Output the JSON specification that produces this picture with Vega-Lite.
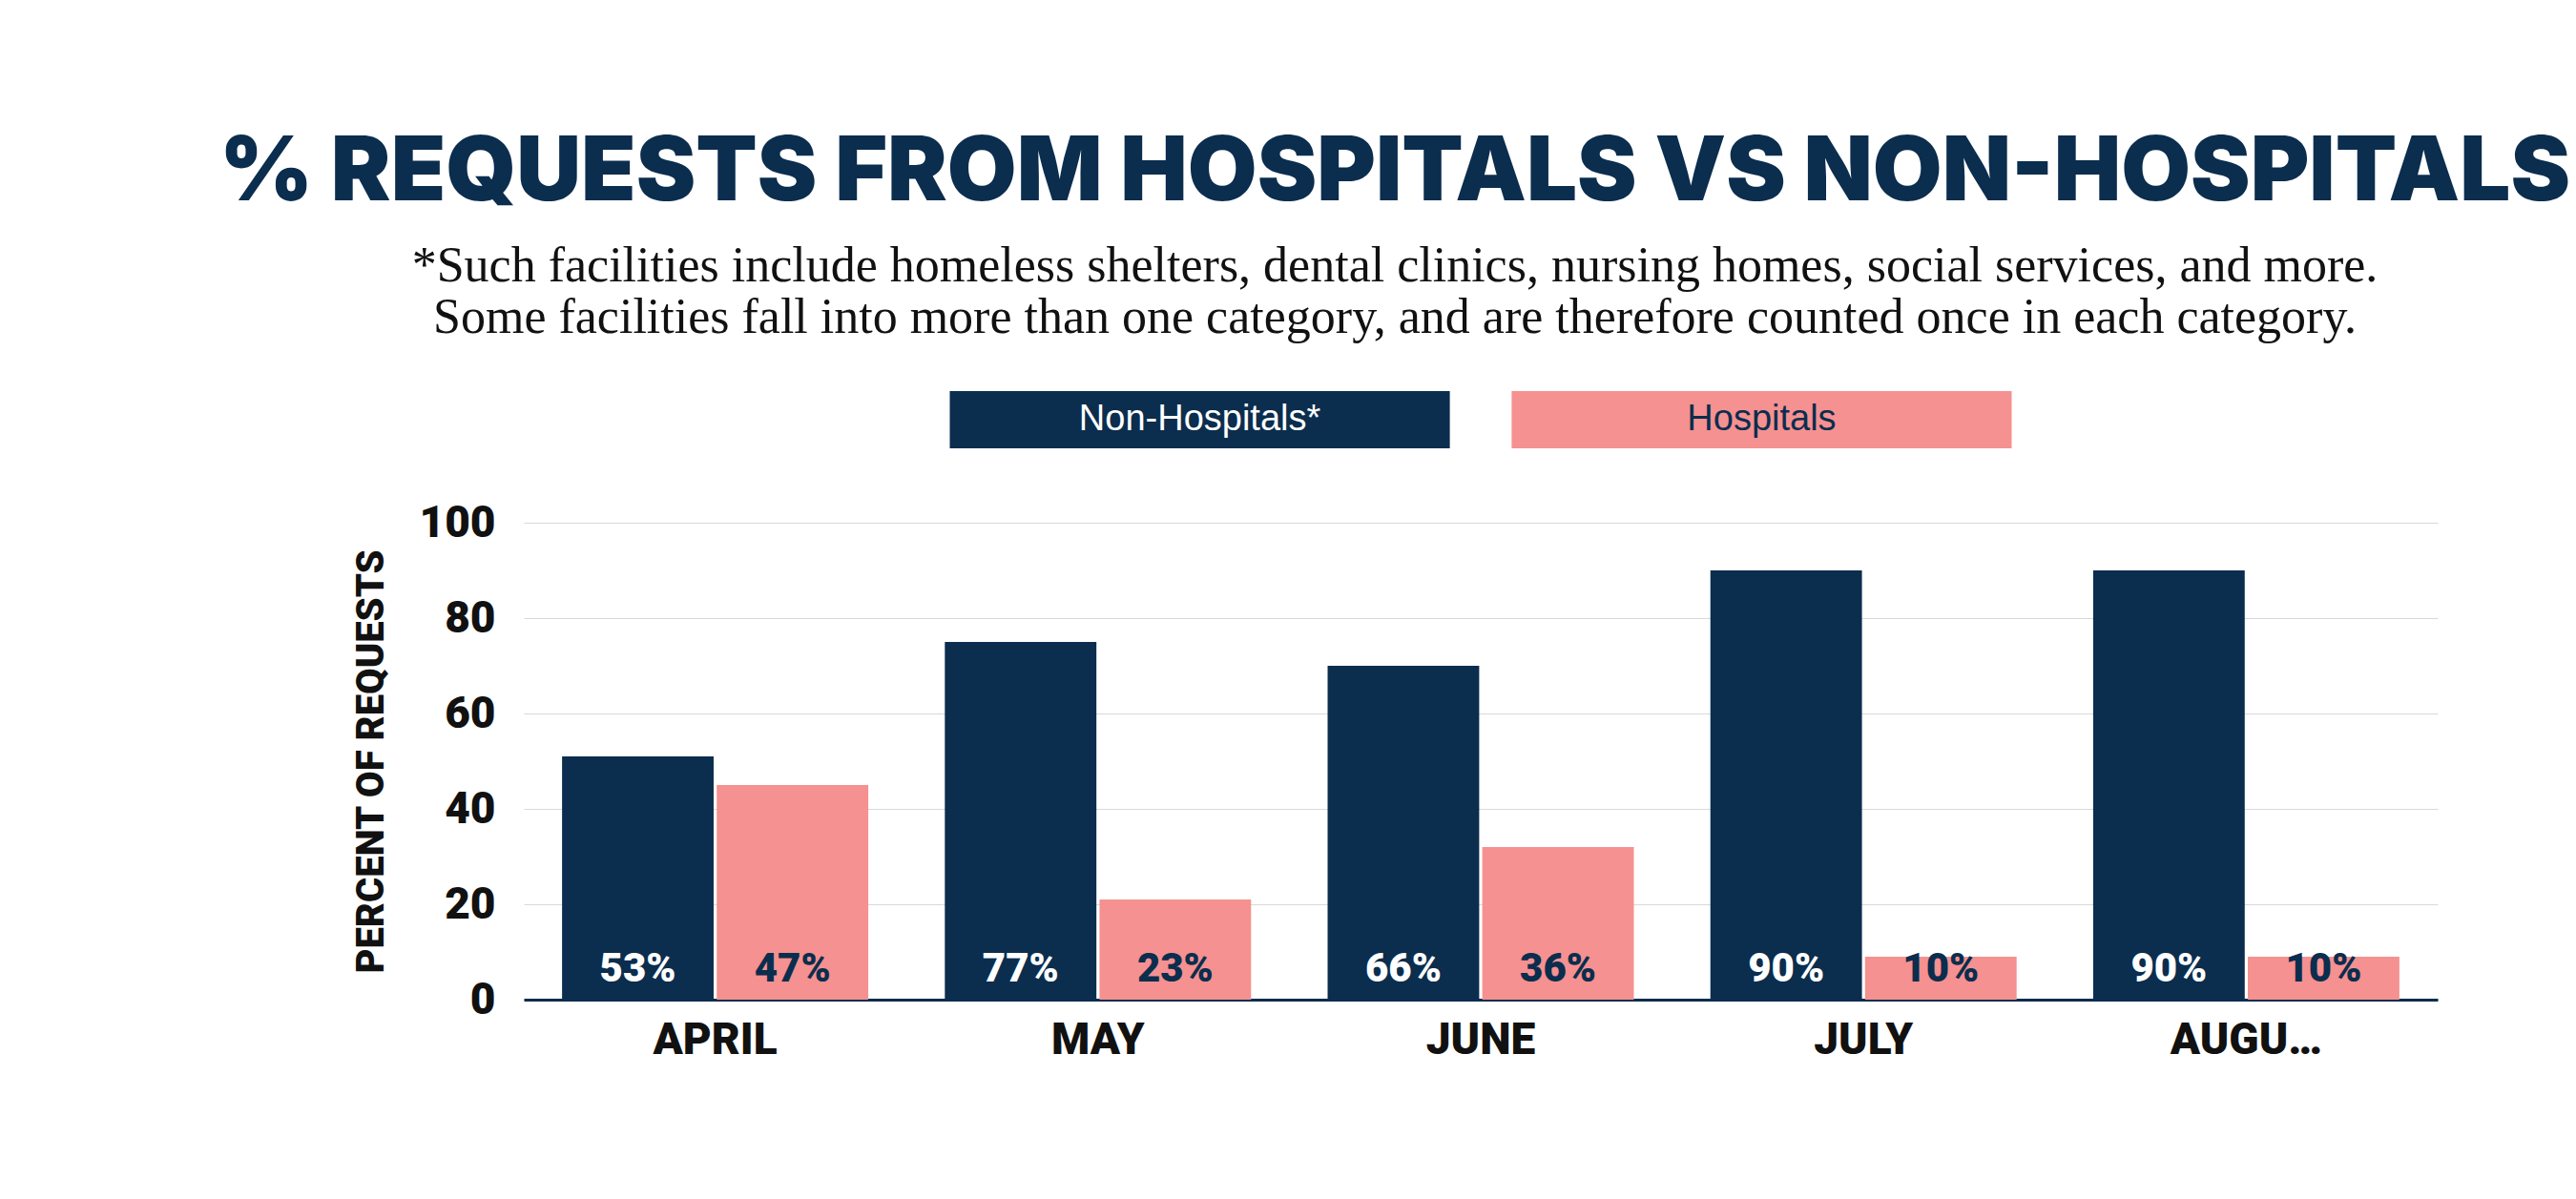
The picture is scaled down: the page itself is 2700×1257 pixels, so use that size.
{
  "$schema": "https://vega.github.io/schema/vega-lite/v6.json",
  "background": "white",
  "padding": {"top": 135, "left": 230, "right": 260, "bottom": 80},
  "title": {
    "text": "% REQUESTS FROM HOSPITALS VS NON-HOSPITALS",
    "subtitle": ["*Such facilities include homeless shelters, dental clinics, nursing homes, social services, and more.", "Some facilities fall into more than one category, and are therefore counted once in each category."],
    "anchor": "middle",
    "font": "Inter",
    "fontSize": 94,
    "fontWeight": 900,
    "color": "#0b2d4e",
    "subtitleFont": "Liberation Serif",
    "subtitleFontSize": 52,
    "subtitleColor": "#111111",
    "subtitlePadding": 24,
    "subtitleLineHeight": 54,
    "offset": 50
  },
  "datasets": {
    "bars": [
      {"month": "APRIL", "type": "Non-Hospitals*", "value": 51, "label": "53%"},
      {"month": "APRIL", "type": "Hospitals", "value": 45, "label": "47%"},
      {"month": "MAY", "type": "Non-Hospitals*", "value": 75, "label": "77%"},
      {"month": "MAY", "type": "Hospitals", "value": 21, "label": "23%"},
      {"month": "JUNE", "type": "Non-Hospitals*", "value": 70, "label": "66%"},
      {"month": "JUNE", "type": "Hospitals", "value": 32, "label": "36%"},
      {"month": "JULY", "type": "Non-Hospitals*", "value": 90, "label": "90%"},
      {"month": "JULY", "type": "Hospitals", "value": 9, "label": "10%"},
      {"month": "AUGUST", "type": "Non-Hospitals*", "value": 90, "label": "90%"},
      {"month": "AUGUST", "type": "Hospitals", "value": 9, "label": "10%"}
    ],
    "legend": [
      {"type": "Non-Hospitals*"},
      {"type": "Hospitals"}
    ]
  },
  "vconcat": [
    {
      "width": 1113,
      "height": 60,
      "data": {"name": "legend"},
      "encoding": {
        "x": {"field": "type", "type": "nominal", "sort": ["Non-Hospitals*", "Hospitals"], "scale": {"paddingInner": 0.11, "paddingOuter": 0}, "axis": null}
      },
      "layer": [
        {
          "mark": {"type": "bar"},
          "encoding": {
            "y": {"datum": 1, "type": "quantitative", "scale": {"domain": [0, 1]}, "axis": null},
            "color": {"field": "type", "type": "nominal", "scale": {"domain": ["Non-Hospitals*", "Hospitals"], "range": ["#0b2d4e", "#f59190"]}, "legend": null}
          }
        },
        {
          "mark": {"type": "text", "font": "Liberation Sans", "fontSize": 38, "baseline": "middle"},
          "encoding": {
            "y": {"datum": 0.5, "type": "quantitative"},
            "text": {"field": "type"},
            "color": {"field": "type", "type": "nominal", "scale": {"domain": ["Non-Hospitals*", "Hospitals"], "range": ["#ffffff", "#0b2d4e"]}, "legend": null}
          }
        }
      ],
      "resolve": {"scale": {"color": "independent"}}
    },
    {
      "width": 2006,
      "height": 500,
      "data": {"name": "bars"},
      "encoding": {
        "x": {"field": "month", "type": "nominal", "sort": ["APRIL", "MAY", "JUNE", "JULY", "AUGUST"], "scale": {"paddingInner": 0.2, "paddingOuter": 0.1}, "title": null,
          "axis": {"labelAngle": 0, "labelFont": "Roboto", "labelFontWeight": 900, "labelFontSize": 46, "labelColor": "#111111", "labelPadding": 20, "ticks": false, "domainColor": "#0b2d4e", "domainWidth": 3}},
        "xOffset": {"field": "type", "type": "nominal", "sort": ["Non-Hospitals*", "Hospitals"], "scale": {"paddingInner": 0.02}}
      },
      "layer": [
        {
          "mark": {"type": "bar"},
          "encoding": {
            "y": {"field": "value", "type": "quantitative", "scale": {"domain": [0, 100]}, "title": "PERCENT OF REQUESTS",
              "axis": {"values": [0, 20, 40, 60, 80, 100], "domain": false, "ticks": false, "gridColor": "#d9d9d9", "labelFont": "Roboto", "labelFontWeight": 900, "labelFontSize": 46, "labelColor": "#111111", "labelPadding": 30, "titleFont": "Roboto", "titleFontWeight": 900, "titleFontSize": 40, "titleColor": "#111111", "titlePadding": 30}},
            "color": {"field": "type", "type": "nominal", "scale": {"domain": ["Non-Hospitals*", "Hospitals"], "range": ["#0b2d4e", "#f59190"]}, "legend": null}
          }
        },
        {
          "mark": {"type": "text", "font": "Roboto", "fontWeight": 900, "fontSize": 42, "baseline": "bottom", "dy": -10},
          "encoding": {
            "y": {"datum": 0, "type": "quantitative"},
            "text": {"field": "label"},
            "color": {"field": "type", "type": "nominal", "scale": {"domain": ["Non-Hospitals*", "Hospitals"], "range": ["#ffffff", "#0b2d4e"]}, "legend": null}
          }
        }
      ],
      "resolve": {"scale": {"color": "independent"}}
    }
  ],
  "spacing": 55,
  "center": true,
  "config": {"view": {"stroke": null}}
}
